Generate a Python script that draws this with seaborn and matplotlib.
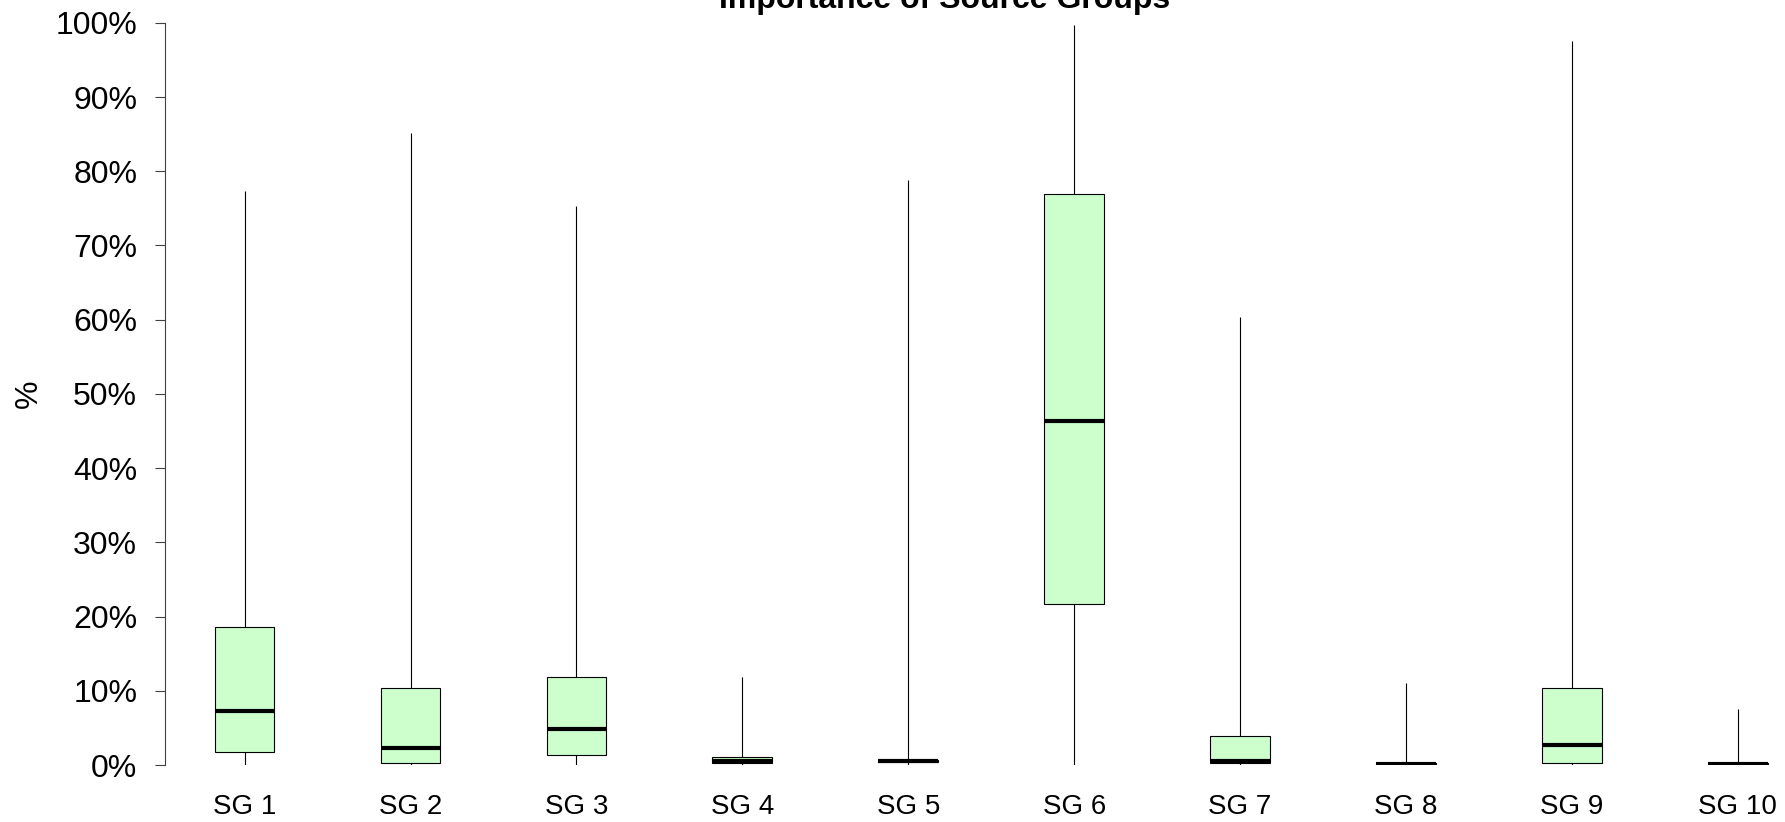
import pandas as pd
import matplotlib
matplotlib.use("Agg")
import matplotlib.pyplot as plt
import seaborn as sns

# values, in percent
groups = ["SG 1", "SG 2", "SG 3", "SG 4", "SG 5", "SG 6", "SG 7", "SG 8", "SG 9", "SG 10"]
mins = [0.0, 0.0, 0.0, 0.0, 0.0, 0.0, 0.0, 0.0, 0.0, 0.0]
q1 = [1.8, 0.3, 1.4, 0.3, 0.35, 21.7, 0.3, 0.05, 0.3, 0.05]
medians = [7.3, 2.3, 4.85, 0.5, 0.55, 46.3, 0.55, 0.2, 2.7, 0.2]
q3 = [18.55, 10.4, 11.8, 1.1, 0.7, 77.0, 3.95, 0.3, 10.4, 0.3]
maxs = [77.3, 85.1, 75.3, 11.8, 78.8, 99.7, 60.4, 11.1, 97.5, 7.5]

# five values per group -> quartiles land exactly on q1 / median / q3
rows = []
for i, g in enumerate(groups):
    for v in (mins[i], q1[i], medians[i], q3[i], maxs[i]):
        rows.append({"group": g, "value": v})
df = pd.DataFrame(rows)

sns.set_style("white")
plt.rcParams["font.family"] = ["Liberation Sans", "DejaVu Sans"]
plt.rcParams["text.color"] = "black"
plt.rcParams["axes.labelcolor"] = "black"
plt.rcParams["xtick.color"] = "black"
plt.rcParams["ytick.color"] = "black"

fig = plt.figure(figsize=(17.85, 8.22), dpi=100)
ax = fig.add_axes([165 / 1785, 57 / 822, 1.02 - 165 / 1785, (765 - 22.8) / 822])

sns.boxplot(
    data=df, x="group", y="value", order=groups,
    whis=(0, 100), width=0.36, color="#ccffcc", saturation=1,
    linecolor="black", linewidth=0.8, showcaps=False, showfliers=False,
    medianprops={"color": "black", "linewidth": 3.0},
    whiskerprops={"linewidth": 0.8},
    ax=ax,
)

ax.set_ylim(0, 100)
ax.set_xlim(-0.48, 9.5)
ax.set_yticks(range(0, 101, 10))
ax.set_yticklabels([f"{t}%" for t in range(0, 101, 10)])
ax.tick_params(axis="y", length=7, width=0.8, pad=13, labelsize=23, left=True, color="#404040")
ax.tick_params(axis="x", length=0, pad=21, labelsize=20)
for s in ["top", "right", "bottom"]:
    ax.spines[s].set_visible(False)
ax.spines["left"].set_color("#404040")
ax.spines["left"].set_linewidth(0.8)

ax.set_xlabel("")
ax.set_ylabel("%", fontsize=23, labelpad=8)
fig.text(945 / 1785, 1 - 8 / 822, "Importance of Source Groups",
         ha="center", va="baseline", fontsize=23, fontweight="bold")

fig.savefig("out.png", dpi=100)
